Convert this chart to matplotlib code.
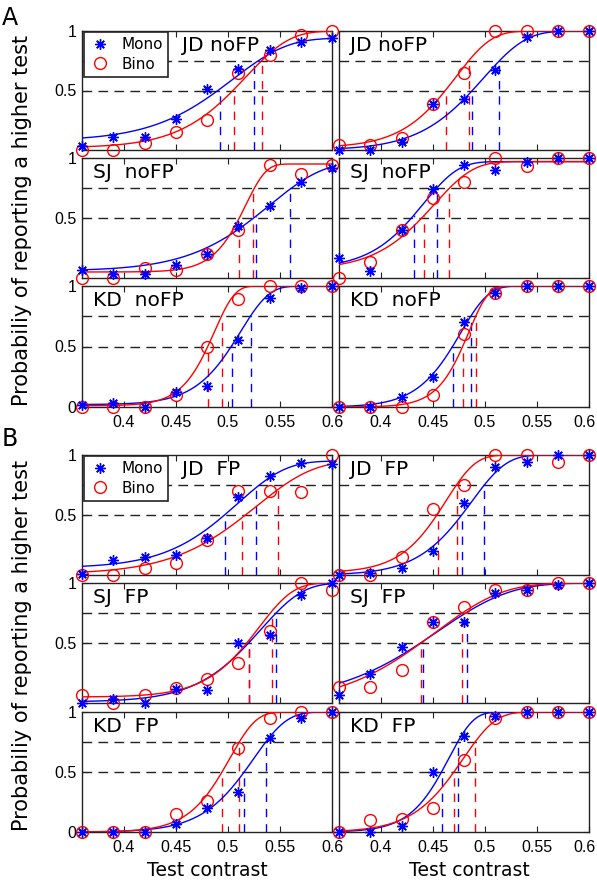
import numpy as np
import matplotlib
matplotlib.use("Agg")
import matplotlib.pyplot as plt
import matplotlib.transforms as mtransforms
from matplotlib.lines import Line2D

# ---------------- data ----------------
x_contrast = [0.36, 0.39, 0.42, 0.45, 0.48, 0.51, 0.54, 0.57, 0.60]
x_ticks = [0.4, 0.45, 0.5, 0.55, 0.6]
x_tick_labels = ["0.4", "0.45", "0.5", "0.55", "0.6"]
y_ticks = [0, 0.5, 1]
criterion_levels = [0.5, 0.75]

panel_titles = ["JD noFP", "JD noFP", "SJ  noFP", "SJ  noFP", "KD  noFP", "KD  noFP",
                "JD  FP", "JD  FP", "SJ  FP", "SJ  FP", "KD  FP", "KD  FP"]

# proportions "higher" (Mono = monocular, Bino = binocular)
mono_A1L = [0.03, 0.11, 0.11, 0.26, 0.51, 0.68, 0.84, 0.91, 0.94]
bino_A1L = [0.00, 0.00, 0.06, 0.15, 0.25, 0.65, 0.80, 0.97, 1.00]
mono_A1R = [0.00, 0.00, 0.07, 0.39, 0.43, 0.67, 0.95, 1.00, 1.00]
bino_A1R = [0.045, 0.045, 0.10, 0.39, 0.65, 1.00, 1.00, 1.00, 1.00]
mono_A2L = [0.07, 0.03, 0.03, 0.11, 0.20, 0.43, 0.60, 0.80, 0.92]
bino_A2L = [0.00, 0.00, 0.08, 0.07, 0.20, 0.40, 0.94, 0.87, 0.94]
mono_A2R = [0.17, 0.06, 0.40, 0.74, 0.94, 0.90, 0.97, 1.00, 1.00]
bino_A2R = [0.00, 0.13, 0.40, 0.67, 0.80, 1.00, 0.93, 1.00, 1.00]
mono_A3L = [0.02, 0.03, 0.00, 0.12, 0.17, 0.55, 0.90, 0.98, 1.00]
bino_A3L = [0.00, 0.00, 0.00, 0.10, 0.50, 0.89, 1.00, 1.00, 1.00]
mono_A3R = [0.00, 0.00, 0.08, 0.25, 0.70, 0.945, 1.00, 1.00, 1.00]
bino_A3R = [0.00, 0.00, 0.00, 0.10, 0.60, 0.945, 1.00, 1.00, 1.00]
mono_B1L = [0.01, 0.125, 0.15, 0.165, 0.305, 0.65, 0.825, 0.93, 0.925]
bino_B1L = [0.00, 0.00, 0.055, 0.10, 0.29, 0.70, 0.70, 0.69, 1.00]
mono_B1R = [0.00, 0.02, 0.055, 0.20, 0.60, 0.90, 0.944, 1.00, 1.00]
bino_B1R = [0.00, 0.00, 0.153, 0.55, 0.75, 1.00, 1.00, 0.944, 1.00]
mono_B2L = [0.00, 0.036, 0.00, 0.12, 0.106, 0.50, 0.567, 0.90, 1.00]
bino_B2L = [0.07, 0.00, 0.064, 0.128, 0.198, 0.33, 0.60, 1.00, 0.94]
mono_B2R = [0.07, 0.24, 0.47, 0.673, 0.673, 0.916, 0.94, 0.986, 1.00]
bino_B2R = [0.134, 0.134, 0.274, 0.673, 0.80, 0.944, 0.94, 1.00, 1.00]
mono_B3L = [0.00, 0.00, 0.00, 0.07, 0.20, 0.33, 0.78, 0.95, 1.00]
bino_B3L = [0.00, 0.00, 0.00, 0.153, 0.26, 0.70, 0.95, 1.00, 1.00]
mono_B3R = [0.00, 0.00, 0.05, 0.50, 0.80, 0.97, 1.00, 1.00, 1.00]
bino_B3R = [0.00, 0.10, 0.11, 0.20, 0.60, 0.95, 1.00, 1.00, 1.00]

mono_series = [mono_A1L, mono_A1R, mono_A2L, mono_A2R, mono_A3L, mono_A3R,
               mono_B1L, mono_B1R, mono_B2L, mono_B2R, mono_B3L, mono_B3R]
bino_series = [bino_A1L, bino_A1R, bino_A2L, bino_A2R, bino_A3L, bino_A3R,
               bino_B1L, bino_B1R, bino_B2L, bino_B2R, bino_B3L, bino_B3R]

# fitted psychometric (Weibull) functions: lower / upper asymptote,
# thresholds at 50% and 75% of the function
mono_lower = [0.08, 0.00, 0.06, 0.08, 0.02, 0.00, 0.06, 0.00, 0.01, 0.03, 0.00, 0.00]
mono_upper = [0.94, 1.00, 0.97, 0.97, 1.00, 1.00, 0.95, 1.00, 1.00, 1.00, 1.00, 1.00]
mono_t50 = [0.492, 0.488, 0.527, 0.432, 0.504, 0.469, 0.4975, 0.4778, 0.5205, 0.4409, 0.5157, 0.4584]
mono_t75 = [0.525, 0.514, 0.560, 0.4536, 0.522, 0.4865, 0.527, 0.4995, 0.5466, 0.4831, 0.5364, 0.4739]
bino_lower = [0.02, 0.02, 0.05, 0.07, 0.01, 0.00, 0.01, 0.02, 0.05, 0.00, 0.00, 0.00]
bino_upper = [1.00, 1.00, 0.95, 0.97, 1.00, 1.00, 0.95, 1.00, 1.00, 1.00, 1.00, 1.00]
bino_t50 = [0.506, 0.463, 0.511, 0.4416, 0.481, 0.4787, 0.514, 0.4547, 0.5205, 0.4387, 0.4944, 0.4703]
bino_t75 = [0.533, 0.485, 0.524, 0.4656, 0.494, 0.4912, 0.5485, 0.4731, 0.542, 0.4784, 0.511, 0.4906]


def weibull(x, g, top, t50, t75):
    beta = np.log(np.log(4) / np.log(2)) / np.log(t75 / t50)
    alpha = t50 / np.log(2) ** (1.0 / beta)
    F = 1 - np.exp(-(np.asarray(x) / alpha) ** beta)
    return g + (top - g) * F


# ---------------- figure ----------------
W, H = 597, 886
fig = plt.figure(figsize=(W / 100, H / 100), dpi=100)

TXT = ["DejaVu Sans"]
TICK = ["Liberation Sans", "DejaVu Sans"]

col_left = [82, 339]
col_width = 250
rows_px = [(31, 150), (158, 278), (286, 407), (455, 575), (583, 703), (712, 832)]

BLUE = "#0000ff"
RED = "#ff0000"
ast = (8, 2, 0)

xs = np.linspace(x_contrast[0], x_contrast[-1], 400)

for i in range(12):
    r, c = divmod(i, 2)
    top_px, bot_px = rows_px[r]
    ax = fig.add_axes([col_left[c] / W, 1 - bot_px / H, col_width / W, (bot_px - top_px) / H])
    ax.set_xlim(x_contrast[0], x_contrast[-1])
    ax.set_ylim(0, 1)

    for lvl in criterion_levels:
        ax.axhline(lvl, color="#222222", lw=1.0, ls=(0, (7, 4.5)), zorder=1)

    fits = [(mono_lower[i], mono_upper[i], mono_t50[i], mono_t75[i], BLUE),
            (bino_lower[i], bino_upper[i], bino_t50[i], bino_t75[i], RED)]
    for g, tp, t50, t75, col in fits:
        ax.plot(xs, weibull(xs, g, tp, t50, t75), color=col, lw=1.0, zorder=3)
        for t in (t50, t75):
            ax.plot([t, t], [0, weibull(t, g, tp, t50, t75)], color=col, lw=1.0,
                    ls=(0, (6, 5)), zorder=2)

    ax.plot(x_contrast, bino_series[i], ls="none", marker="o", ms=8.5, mfc="none",
            mec=RED, mew=1.0, clip_on=False, zorder=4)
    ax.plot(x_contrast, mono_series[i], ls="none", marker=ast, ms=7.5, mec=BLUE,
            mfc=BLUE, mew=1.0, clip_on=False, zorder=5)

    ax.set_xticks(x_ticks)
    ax.set_yticks(y_ticks)
    ax.tick_params(direction="in", length=4, width=0.8, top=True, right=True,
                   labelsize=11.5, pad=4, colors="#222222")
    bottom_row = r in (2, 5)
    if bottom_row:
        ax.set_xticklabels(x_tick_labels)
        ax.tick_params(axis="x", pad=6)
    else:
        ax.tick_params(labelbottom=False)
    if c == 0:
        ax.set_yticklabels(["0" if bottom_row else "", "0.5", "1"])
    else:
        ax.tick_params(labelleft=False)
    for lab in ax.get_xticklabels() + ax.get_yticklabels():
        lab.set_family(TICK)
        lab.set_color("black")
    if bottom_row and c == 1:
        last = ax.get_xticklabels()[-1]
        last.set_transform(last.get_transform() +
                           mtransforms.ScaledTranslation(-5 / 100, 0, fig.dpi_scale_trans))
    for sp in ax.spines.values():
        sp.set_linewidth(1.0)
        sp.set_color("#222222")

    has_legend = (c == 0 and r in (0, 3))
    tx = 0.40 if has_legend else 0.045
    ax.text(tx, 0.955, panel_titles[i], transform=ax.transAxes, ha="left", va="top",
            fontsize=14.5, family=TXT, zorder=6)

    if has_legend:
        handles = [Line2D([], [], ls="none", marker=ast, ms=7.5, mec=BLUE, mfc=BLUE, mew=1.0),
                   Line2D([], [], ls="none", marker="o", ms=8.5, mfc="none", mec=RED, mew=1.0)]
        leg = ax.legend(handles, ["Mono", "Bino"], loc="upper left",
                        bbox_to_anchor=(0.008, 0.995), borderaxespad=0,
                        prop={"family": TXT, "size": 11}, frameon=True, fancybox=False,
                        edgecolor="#222222", framealpha=1, borderpad=0.35,
                        handlelength=1.4, handletextpad=0.7, labelspacing=0.3)
        leg.get_frame().set_linewidth(1.2)
        leg.set_zorder(7)

# panel letters
fig.text(2 / W, 1 - 6 / H, "A", fontsize=17, family=TXT, va="top", ha="left")
fig.text(2 / W, 1 - 427 / H, "B", fontsize=17, family=TXT, va="top", ha="left")

# y labels
ylab = "Probabiliy of reporting a higher test"
fig.text(22 / W, 1 - 220 / H, ylab, rotation=90, fontsize=15, family=TXT,
         ha="center", va="center")
fig.text(22 / W, 1 - 645 / H, ylab, rotation=90, fontsize=15, family=TXT,
         ha="center", va="center")

# x labels
fig.text(207 / W, 1 - 871 / H, "Test contrast", fontsize=13.5, family=TXT,
         ha="center", va="center")
fig.text(469 / W, 1 - 871 / H, "Test contrast", fontsize=13.5, family=TXT,
         ha="center", va="center")

fig.savefig("out.png", dpi=100)
